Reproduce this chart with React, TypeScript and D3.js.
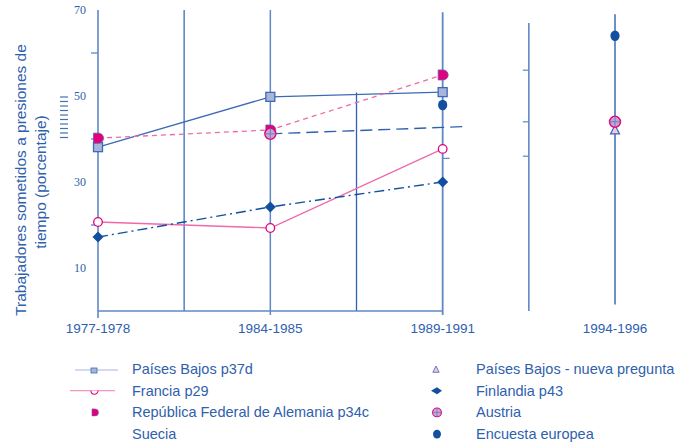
import React from "react";
import * as d3 from "d3";

const categories = ["1977-1978", "1984-1985", "1989-1991", "1994-1996"];
const yTicks = [10, 30, 50, 70];
const yMinorTicks = [20, 40, 60];
const rightPanelTicks = [56, 44, 36];

const paisesBajos = [38.1, 49.8, 50.9, null];
const francia = [20.7, 19.3, 37.7, null];
const rfa = [40.2, 42.1, 54.9, null];
const suecia = [null, 41.2, 42.7, null];
const finlandia = [17.2, 24.2, 30.0, null];
const encuesta = [null, null, 47.9, 64.0];
const pbNueva = [null, null, null, 42.1];
const austria = [null, 41.2, null, 44.0];

const BLUE = "#2f5fad";
const GRID = "#5f88c6";
const DARK = "#134f9f";
const PINK = "#ee6aa8";
const MAGENTA = "#e3007d";
const LIGHTSQ = "#a8b6dc";

export default function App() {
  const W = 686, H = 446;
  const x = d3.scalePoint<string>().domain(categories).range([98, 615]);
  const y = d3.scaleLinear().domain([0, 70]).range([311, 10]);
  const step = x.step();

  const pts = (arr: (number | null)[]) =>
    arr.map((v, i) => (v == null ? null : [x(categories[i])!, y(v)] as [number, number])).filter(Boolean) as [number, number][];
  const line = d3.line<[number, number]>().x(d => d[0]).y(d => d[1]);

  const sq = (cx: number, cy: number, k: string) => (
    <rect key={k} x={cx - 4.5} y={cy - 4.5} width={9} height={9} fill={LIGHTSQ} stroke="#3d6ab5" strokeWidth={1.3} />
  );
  const openC = (cx: number, cy: number, k: string) => (
    <circle key={k} cx={cx} cy={cy} r={4.3} fill="#fff" stroke={MAGENTA} strokeWidth={1.3} />
  );
  const rfaM = (cx: number, cy: number, k: string) => (
    <path key={k} d={`M${cx - 4.5},${cy - 5}h5a5,5 0 0 1 0,10h-5z`} fill={MAGENTA} stroke="#6a5ab0" strokeWidth={0.8} />
  );
  const diamond = (cx: number, cy: number, k: string) => (
    <path key={k} d={`M${cx},${cy - 5.5}L${cx + 5.5},${cy}L${cx},${cy + 5.5}L${cx - 5.5},${cy}Z`} fill={DARK} />
  );
  const dot = (cx: number, cy: number, k: string) => (
    <ellipse key={k} cx={cx} cy={cy} rx={4.6} ry={5.2} fill={DARK} />
  );
  const tri = (cx: number, cy: number, k: string) => (
    <path key={k} d={`M${cx},${cy - 5}L${cx + 4.5},${cy + 4}L${cx - 4.5},${cy + 4}Z`} fill="#f4c8dc" stroke="#3d6ab5" strokeWidth={1.2} />
  );
  const aust = (cx: number, cy: number, k: string) => (
    <g key={k}>
      <circle cx={cx} cy={cy} r={5.5} fill="#c9a6d0" stroke={MAGENTA} strokeWidth={1.4} />
      <line x1={cx - 5.5} x2={cx + 5.5} y1={cy} y2={cy} stroke="#6a7fc0" strokeWidth={1} />
      <line x1={cx} x2={cx} y1={cy - 5.5} y2={cy + 5.5} stroke="#6a7fc0" strokeWidth={1} />
    </g>
  );

  const sPts = pts(suecia);
  const sExt: [number, number][] = sPts.length === 2
    ? [...sPts, [sPts[1][0] + step * 0.135, sPts[1][1] + (sPts[1][1] - sPts[0][1]) * 0.135]]
    : sPts;

  const legendLeft = ["Países Bajos p37d", "Francia p29", "República Federal de Alemania p34c", "Suecia"];
  const legendRight = ["Países Bajos - nueva pregunta", "Finlandia p43", "Austria", "Encuesta europea"];
  const rowY = (i: number) => 369 + i * 21.7;

  const xAxisEnd = x(categories[2])!;

  return (
    <svg width={W} height={H} style={{ position: "absolute", left: 0, top: 0, background: "#fff" }}
      fontFamily="'Liberation Sans', Arial, sans-serif">
      {/* Y title */}
      <g fill={BLUE} fontSize={15.5} textAnchor="middle">
        <text transform={`translate(26,${180}) rotate(-90)`}>Trabajadores sometidos a presiones de</text>
        <text transform={`translate(46,${182}) rotate(-90)`}>tiempo (porcentaje)</text>
      </g>
      {/* glitch stacked marks */}
      {d3.range(10).map(i => (
        <line key={"g" + i} x1={60} x2={68} y1={y(50) + 1 + i * 4.5} y2={y(50) + 1 + i * 4.5} stroke={DARK} strokeWidth={1.2} opacity={0.8} />
      ))}
      {/* Y tick labels */}
      {yTicks.map(t => (
        <text key={"yt" + t} x={86} y={y(t) + 4} fontSize={12} fill={BLUE} textAnchor="end" fontFamily="'Liberation Serif', serif">{t}</text>
      ))}
      {yMinorTicks.map(t => (
        <line key={"ym" + t} x1={91} x2={98} y1={y(t)} y2={y(t)} stroke={GRID} strokeWidth={1.3} />
      ))}
      {/* vertical lines */}
      <line x1={98} x2={98} y1={y(70)} y2={318} stroke={GRID} strokeWidth={1.6} />
      <line x1={x(categories[0])! + step / 2} x2={x(categories[0])! + step / 2} y1={y(70)} y2={y(0)} stroke={GRID} strokeWidth={1.6} />
      <line x1={x(categories[1])!} x2={x(categories[1])!} y1={y(70)} y2={y(0) + 4} stroke={GRID} strokeWidth={1.5} />
      <line x1={x(categories[1])! + step / 2} x2={x(categories[1])! + step / 2} y1={y(50.8)} y2={y(0)} stroke="#2d62b0" strokeWidth={1.3} />
      <line x1={xAxisEnd} x2={xAxisEnd} y1={y(69.5)} y2={y(0) + 4} stroke={GRID} strokeWidth={1.8} />
      <line x1={x(categories[2])! + step / 2} x2={x(categories[2])! + step / 2} y1={y(67)} y2={y(0)} stroke={GRID} strokeWidth={1.6} />
      {rightPanelTicks.map(t => (
        <line key={"rt" + t} x1={x(categories[2])! + step / 2 - 6} x2={x(categories[2])! + step / 2} y1={y(t)} y2={y(t)} stroke={GRID} strokeWidth={1.2} />
      ))}
      <line x1={x(categories[3])!} x2={x(categories[3])!} y1={y(69)} y2={y(1.5)} stroke="#2d62b0" strokeWidth={1.4} />
      <line x1={xAxisEnd} x2={xAxisEnd + 7} y1={y(35.5)} y2={y(35.5)} stroke={GRID} strokeWidth={1.2} />
      {/* x axis */}
      <line x1={98} x2={xAxisEnd} y1={y(0)} y2={y(0)} stroke={GRID} strokeWidth={1.6} />
      {categories.map(c => (
        <text key={c} x={x(c)!} y={333} fontSize={13.5} fill={BLUE} textAnchor="middle">{c}</text>
      ))}

      {/* series lines */}
      <path d={line(pts(paisesBajos))!} fill="none" stroke="#3d6ab5" strokeWidth={1.3} />
      <path d={line(pts(francia))!} fill="none" stroke={PINK} strokeWidth={1.3} />
      <path d={line(pts(rfa))!} fill="none" stroke={PINK} strokeWidth={1.3} strokeDasharray="5,4" />
      <path d={line(sExt)!} fill="none" stroke="#2d62b0" strokeWidth={1.4} strokeDasharray="12,6" />
      <path d={line(pts(finlandia))!} fill="none" stroke={DARK} strokeWidth={1.4} strokeDasharray="10,4,2,4" />

      {/* markers */}
      {pts(paisesBajos).map((p, i) => sq(p[0], p[1], "pb" + i))}
      {pts(francia).map((p, i) => openC(p[0], p[1], "fr" + i))}
      {pts(rfa).map((p, i) => rfaM(p[0], p[1], "rf" + i))}
      {pts(finlandia).map((p, i) => diamond(p[0], p[1], "fi" + i))}
      {pts(encuesta).map((p, i) => dot(p[0], p[1], "en" + i))}
      {pts(pbNueva).map((p, i) => tri(p[0], p[1], "pn" + i))}
      {pts(austria).map((p, i) => aust(p[0], p[1], "au" + i))}

      {/* legend */}
      <g fontSize={14.5} fill={BLUE}>
        {legendLeft.map((t, i) => (
          <text key={t} x={132} y={rowY(i) + 5}>{t}</text>
        ))}
        {legendRight.map((t, i) => (
          <text key={t} x={476} y={rowY(i) + 5}>{t}</text>
        ))}
      </g>
      <line x1={75} x2={118} y1={rowY(0) + 1} y2={rowY(0) + 1} stroke="#a8b6dc" strokeWidth={1.2} />
      <rect x={91} y={rowY(0) - 1} width={6} height={5} fill={LIGHTSQ} stroke="#3d6ab5" strokeWidth={0.8} />
      <line x1={70} x2={115} y1={rowY(1)} y2={rowY(1)} stroke={PINK} strokeWidth={1.2} opacity={0.7} />
      <path d={`M${91},${rowY(1)}a3.5,3.5 0 0 0 7,0`} fill="#fff" stroke={MAGENTA} strokeWidth={1.1} />
      <path d={`M92,${rowY(2) - 3.5}h3a3.5,3.5 0 0 1 0,7h-3z`} fill={MAGENTA} stroke="#6a5ab0" strokeWidth={0.6} />
      <g transform={`translate(436,${rowY(0) + 0.5}) scale(0.7)`}>{tri(0, 0, "lt")}</g>
      <path d={`M431,${rowY(1)}L437,${rowY(1) - 3.5}L442,${rowY(1)}L437,${rowY(1) + 3.5}Z`} fill={DARK} />
      <g transform={`translate(437,${rowY(2)}) scale(0.8)`}>{aust(0, 0, "la")}</g>
      <ellipse cx={437} cy={rowY(3)} rx={4} ry={4.3} fill={DARK} />
    </svg>
  );
}
